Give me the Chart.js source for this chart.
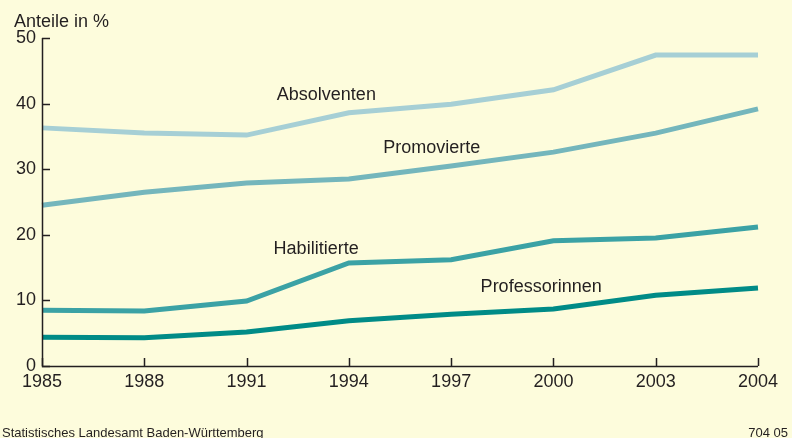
<!DOCTYPE html>
<html>
<head>
<meta charset="utf-8">
<script src="https://cdn.jsdelivr.net/npm/chart.js@4"></script>
<style>
    html, body { margin: 0; padding: 0; background: #fdfcdc; }
    #wrap { width: 792px; height: 438px; position: relative; }
</style>
</head>
<body>
<div id="wrap"><canvas id="chart" width="792" height="438"></canvas></div>
<script>
// Data
const years = ['1985', '1988', '1991', '1994', '1997', '2000', '2003', '2004'];
const absolventen = [36.3, 35.5, 35.2, 38.6, 39.9, 42.1, 47.4, 47.4];
const promovierte = [24.5, 26.5, 27.9, 28.5, 30.5, 32.6, 35.5, 39.2];
const habilitierte = [8.5, 8.4, 9.9, 15.7, 16.2, 19.1, 19.5, 21.2];
const professorinnen = [4.4, 4.3, 5.2, 6.9, 7.9, 8.7, 10.8, 11.9];
const yTicks = [0, 10, 20, 30, 40, 50];

// line labels: [text, category position, value]
const lineLabels = [
    ['Absolventen', 2.78, 41.3],
    ['Promovierte', 3.81, 33.2],
    ['Habilitierte', 2.68, 17.8],
    ['Professorinnen', 4.88, 12.0]
];

const font = '"Liberation Sans", Arial, sans-serif';
const textColor = '#231f20';

const decorPlugin = {
    id: 'decor',
    afterDraw(chart) {
        const ctx = chart.ctx;
        const x = chart.scales.x, y = chart.scales.y;
        const area = chart.chartArea;
        ctx.save();
        // inward tick marks
        ctx.strokeStyle = textColor;
        ctx.lineWidth = 1.5;
        yTicks.forEach(function(v) {
            const py = Math.round(y.getPixelForValue(v)) + 0.5;
            ctx.beginPath();
            ctx.moveTo(area.left, py);
            ctx.lineTo(area.left + 8, py);
            ctx.stroke();
        });
        years.forEach(function(yr, i) {
            const px = Math.round(x.getPixelForValue(i)) + 0.5;
            ctx.beginPath();
            ctx.moveTo(px, area.bottom);
            ctx.lineTo(px, area.bottom - 8);
            ctx.stroke();
        });
        // axis lines
        ctx.beginPath();
        ctx.moveTo(area.left + 0.5, area.top);
        ctx.lineTo(area.left + 0.5, area.bottom + 0.5);
        ctx.lineTo(area.right, area.bottom + 0.5);
        ctx.stroke();

        // line labels
        ctx.fillStyle = textColor;
        ctx.font = '18px ' + font;
        ctx.textAlign = 'center';
        ctx.textBaseline = 'middle';
        lineLabels.forEach(function(l) {
            ctx.fillText(l[0], x.getPixelForValue(l[1]), y.getPixelForValue(l[2]));
        });

        // title and footer
        ctx.textAlign = 'left';
        ctx.textBaseline = 'alphabetic';
        ctx.font = '18px ' + font;
        ctx.fillText('Anteile in %', 14, 27);
        ctx.font = '13px ' + font;
        ctx.fillText('Statistisches Landesamt Baden-Württemberg', 2, 437);
        ctx.textAlign = 'right';
        ctx.fillText('704 05', 788, 437);
        ctx.restore();
    }
};

function series(label, data, color) {
    return {
        label: label,
        data: data,
        borderColor: color,
        borderWidth: 5,
        pointRadius: 0,
        tension: 0,
        fill: false
    };
}

new Chart(document.getElementById('chart'), {
    type: 'line',
    data: {
        labels: years,
        datasets: [
            series('Absolventen', absolventen, '#a6cfd5'),
            series('Promovierte', promovierte, '#74b6bc'),
            series('Habilitierte', habilitierte, '#3ba2a5'),
            series('Professorinnen', professorinnen, '#008b87')
        ]
    },
    options: {
        responsive: false,
        animation: false,
        layout: { padding: { top: 38, right: 34, left: 0, bottom: 0 } },
        plugins: {
            legend: { display: false },
            tooltip: { enabled: false }
        },
        scales: {
            x: {
                offset: false,
                grid: { display: false, drawTicks: false },
                border: { display: false },
                ticks: {
                    color: textColor,
                    font: { family: font, size: 18 },
                    padding: 5,
                    maxRotation: 0,
                    autoSkip: false
                },
                afterFit: function(s) { s.height = 72; }
            },
            y: {
                min: 0,
                max: 50,
                grid: { display: false, drawTicks: false },
                border: { display: false },
                afterBuildTicks: function(s) { s.ticks = yTicks.map(function(v) { return { value: v }; }); },
                ticks: {
                    color: textColor,
                    font: { family: font, size: 18 },
                    padding: 6
                },
                afterFit: function(s) { s.width = 42; }
            }
        }
    },
    plugins: [decorPlugin]
});
</script>
</body>
</html>
